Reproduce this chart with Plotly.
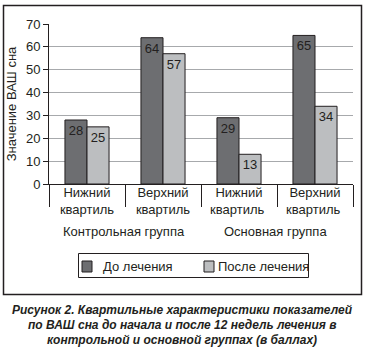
import plotly.graph_objects as go

categories = ["Нижний<br>квартиль", "Верхний<br>квартиль", "Нижний<br>квартиль ", "Верхний<br>квартиль "]
groups = ["Контрольная группа", "Основная группа"]
before = [28, 64, 29, 65]
after = [25, 57, 13, 34]
series_names = ["До лечения", "После лечения"]
y_ticks = [0, 10, 20, 30, 40, 50, 60, 70]
y_title = "Значение ВАШ сна"
caption = ["Рисунок 2. Квартильные характеристики показателей",
           "по ВАШ сна до начала и после 12 недель лечения в",
           "контрольной и основной группах (в баллах)"]

W, H = 365, 349
L, R, T, B = 49, 12, 24, 165
pw, ph = W - L - R, H - T - B

def px(x):
    return (x - L) / pw

def py(y):
    return (H - B - y) / ph

FONT = "Liberation Sans, Arial, sans-serif"
TXT = "#231f20"
C_DARK = "#6d6e71"
C_LIGHT = "#bcbec0"

fig = go.Figure()
for vals, name, col in [(before, series_names[0], C_DARK), (after, series_names[1], C_LIGHT)]:
    fig.add_trace(go.Bar(x=categories, y=vals, name=name, showlegend=False,
                         marker=dict(color=col, line=dict(color="#231f20", width=1)),
                         text=[str(v) for v in vals], textposition="inside",
                         insidetextanchor="end", textangle=0,
                         textfont=dict(color=TXT, size=13, family=FONT)))

fig.update_layout(
    width=W, height=H, margin=dict(l=L, r=R, t=T, b=B),
    paper_bgcolor="white", plot_bgcolor="white",
    barmode="group", bargap=0.42, bargroupgap=0,
    font=dict(family=FONT, size=13, color=TXT),
)
fig.update_xaxes(showline=True, linecolor="#231f20", linewidth=1,
                 ticks="outside", tickson="boundaries", ticklen=22, tickcolor="#231f20",
                 ticklabelstandoff=-4,
                 tickfont=dict(size=13, color=TXT), showgrid=False, automargin=False,
                 fixedrange=True)
fig.update_yaxes(range=[0, 70], tickvals=y_ticks, showline=True, linecolor="#231f20",
                 linewidth=1, ticks="outside", ticklen=5, tickcolor="#231f20",
                 showgrid=True, gridcolor="#a7a9ac", gridwidth=1, zeroline=False,
                 tickfont=dict(size=13, color=TXT), automargin=False,
                 title=dict(text=y_title, font=dict(size=13, color=TXT), standoff=6))

ann = []
for g, cx in zip(groups, [124, 275]):
    ann.append(dict(text=g, x=px(cx), y=py(231), xref="paper", yref="paper",
                    xanchor="center", yanchor="middle",
                    showarrow=False, font=dict(size=13, color=TXT)))
for i, line in enumerate(caption):
    ann.append(dict(text="<b><i>" + line + "</i></b>", x=px(182), y=py(310 + 15 * i),
                    xref="paper", yref="paper", xanchor="center", yanchor="middle",
                    showarrow=False,
                    font=dict(size=12, color=TXT, family=FONT)))

# manual legend
leg_items = [(series_names[0], C_DARK, 82, 101), (series_names[1], C_LIGHT, 204, 216)]
for name, col, sx, tx in leg_items:
    fig.add_shape(type="rect", xref="paper", yref="paper",
                  x0=px(sx), x1=px(sx + 10), y0=py(272), y1=py(261),
                  line=dict(color="#231f20", width=1), fillcolor=col)
    ann.append(dict(text=name, x=px(tx), y=py(266.5), xref="paper", yref="paper",
                    xanchor="left", yanchor="middle", showarrow=False,
                    font=dict(size=13, color=TXT)))
fig.add_shape(type="rect", xref="paper", yref="paper",
              x0=px(78.5), x1=px(308.5), y0=py(277.5), y1=py(253.5),
              line=dict(color="#231f20", width=1), fillcolor="rgba(0,0,0,0)")
fig.update_layout(annotations=ann)

fig.add_shape(type="rect", xref="paper", yref="paper",
              x0=px(3.5), x1=px(361.5), y0=py(294.5), y1=py(5.5),
              line=dict(color="#231f20", width=1.5), fillcolor="rgba(0,0,0,0)", layer="above")

fig.write_html("out.html")
